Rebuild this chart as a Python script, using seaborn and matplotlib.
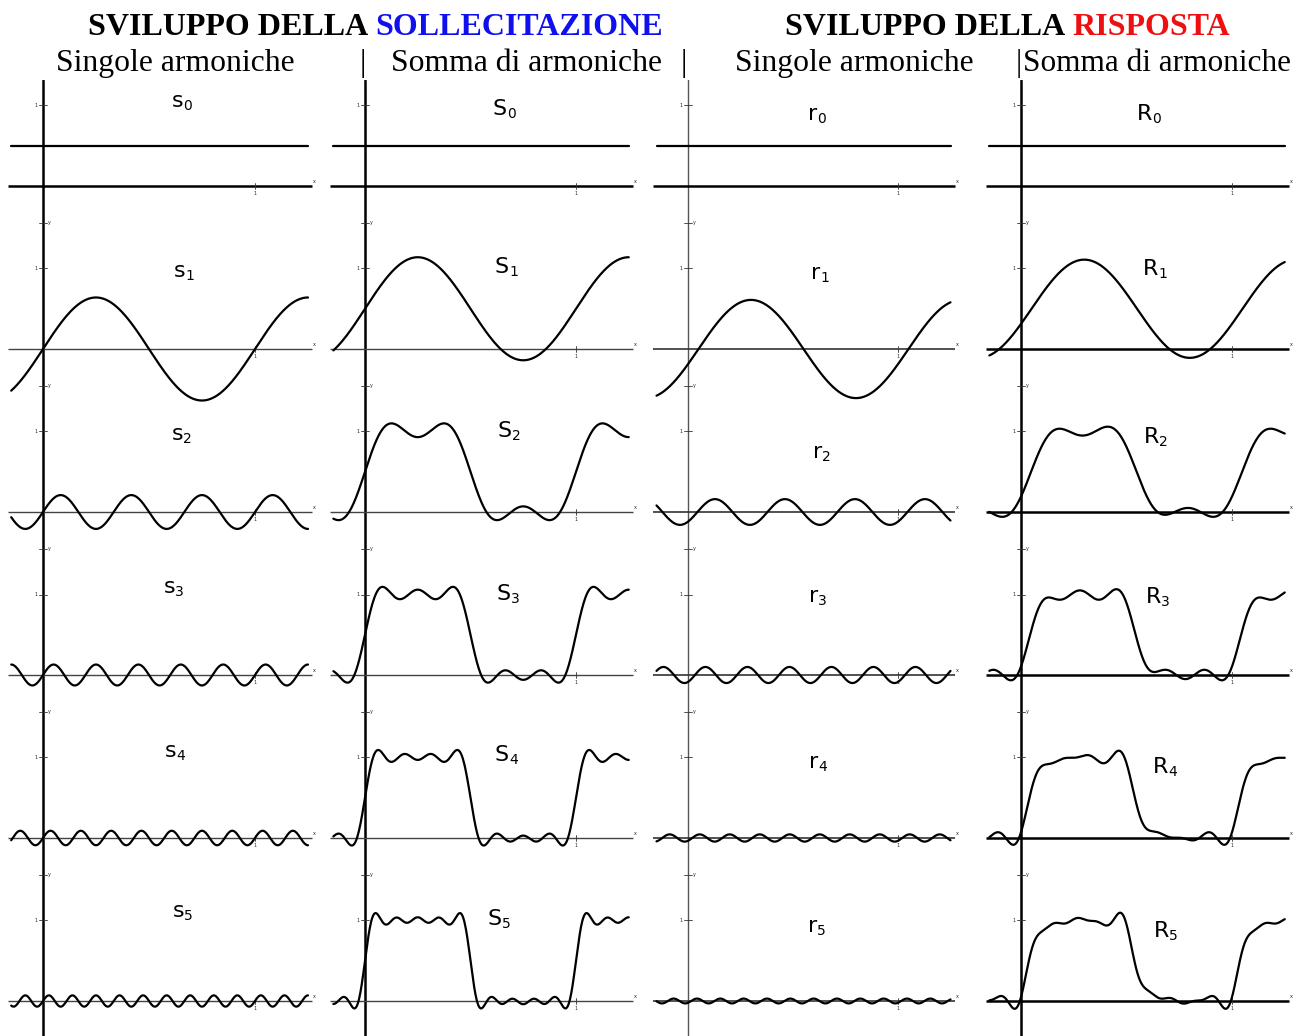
import numpy as np
import pandas as pd
import matplotlib
matplotlib.use("Agg")
import matplotlib.pyplot as plt
import seaborn as sns

# Harmonic content of the square-wave load and of the system response
harmonic_order = [0, 1, 3, 5, 7, 9]
load_amplitude = [0.50, 0.64, 0.21, 0.13, 0.09, 0.07]
response_amplitude = [0.50, 0.61, 0.16, 0.10, 0.045, 0.03]
response_lag = [0.0, 0.05, 0.045, 0.033, 0.02, 0.015]

row_index = [0, 1, 2, 3, 4, 5]
column_letters = ["s", "S", "r", "R"]

title_left = ["SVILUPPO DELLA ", "SOLLECITAZIONE"]
title_right = ["SVILUPPO DELLA ", "RISPOSTA"]
subtitle_single = "Singole armoniche"
subtitle_sum = "Somma di armoniche"

sns.set_style("white")
plt.rcParams["font.family"] = ["DejaVu Sans"]

W, H = 1306, 1036
fig = plt.figure(figsize=(W / 100, H / 100), dpi=100)
fig.patch.set_facecolor("white")


def fx(px):
    return px / W


def fy(py):
    return 1 - py / H


# ---------- panel geometry (pixels) ----------
origin_px = [43, 365, 688, 1021]
unit_px = [212, 211, 210, 211]
yunit_px = 80.5
row_step_px = 163
row0_base_px = 186
axes_top_px = 80

x_lo, x_hi = -0.2, 1.32
y_top = (row0_base_px - axes_top_px) / yunit_px
y_bot = y_top - (H - axes_top_px) / yunit_px
row_step = row_step_px / yunit_px

xs = np.linspace(-0.15, 1.25, 700)


def wave(amp, order, lag=0.0):
    if order == 0:
        return np.full_like(xs, amp)
    return amp * np.sin(2 * np.pi * order * (xs - lag))


load_single = [wave(a, n) for a, n in zip(load_amplitude, harmonic_order)]
resp_single = [wave(a, n, d) for a, n, d in
               zip(response_amplitude, harmonic_order, response_lag)]
load_sum = list(np.cumsum(load_single, axis=0))
resp_sum = list(np.cumsum(resp_single, axis=0))
column_curves = [load_single, load_sum, resp_single, resp_sum]

yaxis_style = [(1.8, "black"), (1.8, "black"), (1.0, "#555555"), (1.8, "black")]
xaxis_style = [(1.0, "#444444"), (1.0, "#444444"), (1.2, "#333333"), (1.8, "black")]

for c in range(4):
    u = unit_px[c]
    left = origin_px[c] + x_lo * u
    width = (x_hi - x_lo) * u
    ax = fig.add_axes([fx(left), 0, width / W, (H - axes_top_px) / H])
    ax.set_xlim(x_lo, x_hi)
    ax.set_ylim(y_bot, y_top)
    ax.axis("off")

    frames = []
    for r in row_index:
        off = -r * row_step
        frames.append(pd.DataFrame({"x": xs, "y": column_curves[c][r] + off,
                                    "row": r}))
    df = pd.concat(frames, ignore_index=True)

    # y axis running through every row
    lw, col = yaxis_style[c]
    ax.axvline(0, color=col, lw=lw, zorder=1)

    for r in row_index:
        off = -r * row_step
        lw, col = ((1.8, "black") if r == 0 else xaxis_style[c])
        ax.hlines(off, -0.165, 1.27, color=col, lw=lw, zorder=1)
        # small tick marks and labels
        ax.plot([1, 1], [off - 0.04, off + 0.04], color="#333333", lw=0.6)
        ax.text(1.0, off - 0.06, "1", fontsize=3.5, ha="center", va="top")
        ax.text(1.275, off + 0.03, "x", fontsize=3.5, ha="left", va="bottom")
        ax.plot([-0.02, 0.02], [off + 1, off + 1], color="#333333", lw=0.6)
        ax.text(-0.025, off + 1, "1", fontsize=3.5, ha="right", va="center")
        if r > 0:
            ax.plot([-0.02, 0.02], [off + 1.57, off + 1.57], color="#333333",
                    lw=0.6)
            ax.text(0.025, off + 1.57, "y", fontsize=3.5, ha="left",
                    va="center")

    sns.lineplot(data=df, x="x", y="y", units="row", estimator=None,
                 color="black", lw=1.6, ax=ax, legend=False, zorder=3)
    ax.set_xlim(x_lo, x_hi)
    ax.set_ylim(y_bot, y_top)
    ax.axis("off")

# ---------- curve names ----------
label_px = [
    [(181, 100), (183, 270), (181, 433), (173, 586), (174, 750), (182, 910)],
    [(505, 108), (507, 266), (510, 430), (509, 593), (507, 754), (500, 918)],
    [(815, 113), (818, 272), (820, 451), (816, 595), (816, 761), (815, 925)],
    [(1150, 113), (1156, 268), (1157, 436), (1159, 596), (1166, 766), (1167, 930)],
]
for c in range(4):
    letter = column_letters[c]
    for r in row_index:
        cx, cy = label_px[c][r]
        fig.text(fx(cx + 2), fy(cy + 7), letter, fontsize=16, ha="right",
                 va="baseline", color="black")
        fig.text(fx(cx + 2), fy(cy + 10), str(r), fontsize=10, ha="left",
                 va="baseline", color="black")

# ---------- headings ----------
serif = ["Liberation Serif", "DejaVu Serif"]
fig.text(fx(368), fy(35), title_left[0].strip(), fontsize=23, fontweight="bold",
         family=serif, ha="right", va="baseline", color="black")
fig.text(fx(375), fy(35), title_left[1], fontsize=23, fontweight="bold",
         family=serif, ha="left", va="baseline", color="#1010ee")
fig.text(fx(1065), fy(35), title_right[0].strip(), fontsize=23, fontweight="bold",
         family=serif, ha="right", va="baseline", color="black")
fig.text(fx(1072), fy(35), title_right[1], fontsize=23, fontweight="bold",
         family=serif, ha="left", va="baseline", color="#ee1010")

fig.text(fx(56), fy(71), subtitle_single, fontsize=22.8, family=serif,
         ha="left", va="baseline", color="black")
fig.text(fx(363), fy(71), "|", fontsize=22.8, family=serif, ha="center",
         va="baseline", color="black")
fig.text(fx(391), fy(71), subtitle_sum, fontsize=22.8, family=serif,
         ha="left", va="baseline", color="black")
fig.text(fx(684), fy(71), "|", fontsize=22.8, family=serif, ha="center",
         va="baseline", color="black")
fig.text(fx(735), fy(71), subtitle_single, fontsize=22.8, family=serif,
         ha="left", va="baseline", color="black")
fig.text(fx(1021.5), fy(71), "|", fontsize=22.5, family=serif, ha="right",
         va="baseline", color="black")
fig.text(fx(1023), fy(71), subtitle_sum, fontsize=22.5, family=serif,
         ha="left", va="baseline", color="black")

fig.savefig("out.png", dpi=100, facecolor="white")
